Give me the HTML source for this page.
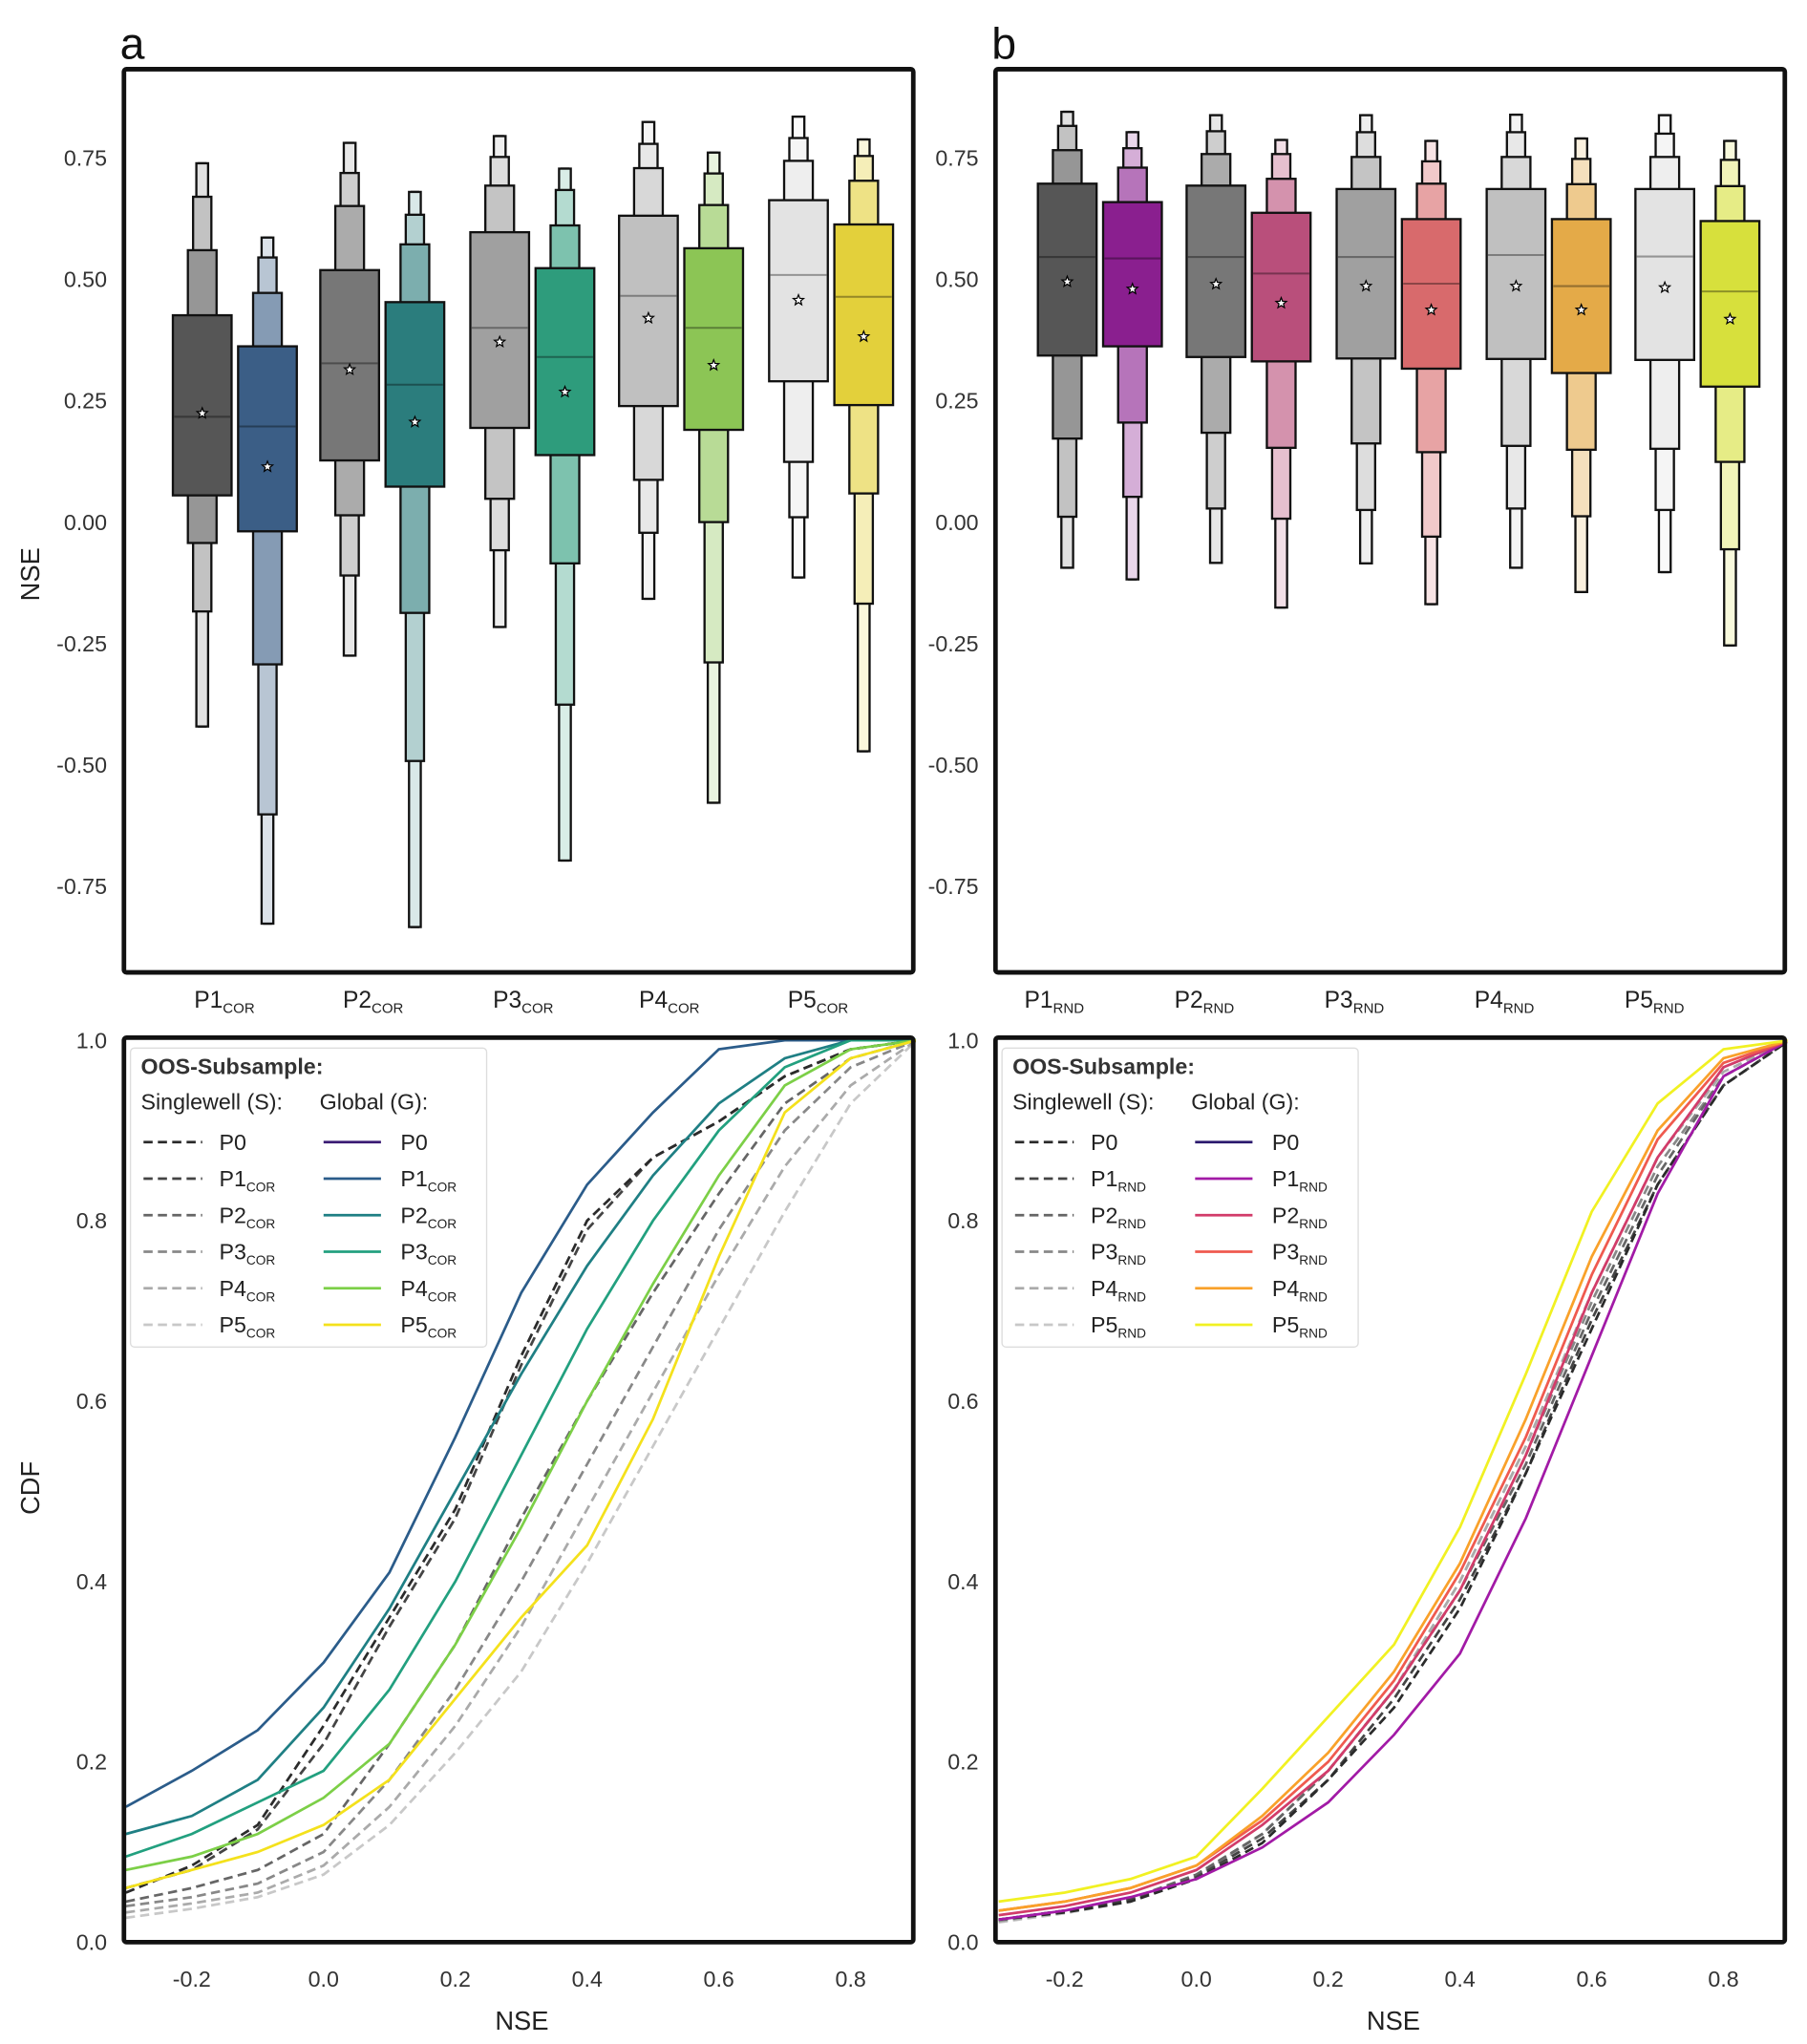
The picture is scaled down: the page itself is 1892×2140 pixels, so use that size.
<!DOCTYPE html>
<html><head><meta charset="utf-8"><style>
html,body{margin:0;padding:0;background:#fff;}
svg{display:block;font-family:"Liberation Sans",sans-serif;}
</style></head><body>
<svg id="fig" width="1892" height="2140" viewBox="0 0 1385 1566" preserveAspectRatio="none" xmlns="http://www.w3.org/2000/svg"></svg>
<script>
// ---------- Boxen data (letter values) ----------
const boxCategories = ["P1","P2","P3","P4","P5"];
const aS_upper = [[0.426,0.56,0.67,0.739,0.739],[0.519,0.651,0.719,0.781,0.781],[0.597,0.693,0.752,0.795,0.795],[0.631,0.729,0.779,0.824,0.824],[0.663,0.744,0.791,0.835,0.835]];
const aS_lower = [[0.055,-0.043,-0.184,-0.421,-0.421],[0.127,0.014,-0.11,-0.275,-0.275],[0.194,0.048,-0.058,-0.216,-0.216],[0.239,0.087,-0.022,-0.158,-0.158],[0.29,0.124,0.01,-0.114,-0.114]];
const aS_median = [0.217,0.327,0.4,0.466,0.509];
const aS_mean = [0.224,0.314,0.371,0.42,0.457];
const aG_upper = [[0.362,0.472,0.545,0.586,0.586],[0.453,0.572,0.633,0.68,0.68],[0.523,0.611,0.684,0.728,0.728],[0.564,0.653,0.718,0.761,0.761],[0.613,0.703,0.754,0.788,0.788]];
const aG_lower = [[-0.019,-0.293,-0.602,-0.827,-0.827],[0.073,-0.187,-0.492,-0.834,-0.834],[0.138,-0.085,-0.376,-0.697,-0.697],[0.19,0.0,-0.289,-0.578,-0.578],[0.241,0.059,-0.168,-0.472,-0.472]];
const aG_median = [0.197,0.283,0.34,0.4,0.464];
const aG_mean = [0.114,0.206,0.268,0.323,0.382];
const bS_upper = [[0.697,0.766,0.816,0.845,0.845],[0.693,0.758,0.805,0.838,0.838],[0.686,0.752,0.803,0.838,0.838],[0.686,0.752,0.803,0.839,0.839],[0.686,0.752,0.8,0.838,0.838]];
const bS_lower = [[0.343,0.172,0.011,-0.094,-0.094],[0.34,0.184,0.028,-0.084,-0.084],[0.337,0.162,0.025,-0.085,-0.085],[0.336,0.157,0.028,-0.094,-0.094],[0.334,0.151,0.025,-0.103,-0.103]];
const bS_median = [0.546,0.546,0.546,0.55,0.547];
const bS_mean = [0.495,0.49,0.486,0.486,0.483];
const bG_upper = [[0.659,0.73,0.77,0.803,0.803],[0.637,0.707,0.758,0.787,0.787],[0.624,0.697,0.743,0.785,0.785],[0.624,0.696,0.748,0.79,0.79],[0.62,0.692,0.746,0.785,0.785]];
const bG_lower = [[0.362,0.205,0.052,-0.118,-0.118],[0.331,0.153,0.007,-0.176,-0.176],[0.316,0.144,-0.03,-0.169,-0.169],[0.307,0.149,0.012,-0.144,-0.144],[0.279,0.124,-0.056,-0.254,-0.254]];
const bG_median = [0.543,0.512,0.491,0.486,0.475];
const bG_mean = [0.48,0.451,0.437,0.437,0.418];
const boxTicks = [0.75,0.5,0.25,0,-0.25,-0.5,-0.75];

// ---------- CDF data ----------
const cdfX = [-0.3,-0.2,-0.1,0,0.1,0.2,0.3,0.4,0.5,0.6,0.7,0.8,0.9];
const cS0 = [0.055,0.085,0.13,0.24,0.36,0.48,0.65,0.8,0.87,0.91,0.96,0.99,1.0];
const cS1 = [0.06,0.08,0.125,0.22,0.35,0.47,0.64,0.79,0.87,0.91,0.96,0.99,1.0];
const cS2 = [0.045,0.06,0.08,0.12,0.22,0.33,0.47,0.6,0.72,0.83,0.93,0.98,1.0];
const cS3 = [0.04,0.05,0.065,0.1,0.18,0.28,0.4,0.53,0.66,0.79,0.9,0.97,1.0];
const cS4 = [0.033,0.043,0.055,0.085,0.15,0.24,0.35,0.48,0.61,0.74,0.86,0.95,1.0];
const cS5 = [0.027,0.037,0.05,0.075,0.13,0.21,0.3,0.42,0.55,0.68,0.81,0.93,1.0];
const cG1 = [0.15,0.19,0.235,0.31,0.41,0.56,0.72,0.84,0.92,0.99,1.0,1.0,1.0];
const cG2 = [0.12,0.14,0.18,0.26,0.37,0.5,0.63,0.75,0.85,0.93,0.98,1.0,1.0];
const cG3 = [0.095,0.12,0.155,0.19,0.28,0.4,0.54,0.68,0.8,0.9,0.97,1.0,1.0];
const cG4 = [0.08,0.095,0.12,0.16,0.22,0.33,0.46,0.6,0.73,0.85,0.95,0.99,1.0];
const cG5 = [0.06,0.08,0.1,0.13,0.18,0.27,0.36,0.44,0.58,0.76,0.92,0.98,1.0];
const dS0 = [0.025,0.033,0.045,0.07,0.11,0.18,0.26,0.37,0.52,0.68,0.84,0.95,1.0];
const dS1 = [0.025,0.035,0.047,0.072,0.115,0.18,0.27,0.38,0.52,0.69,0.84,0.95,1.0];
const dS2 = [0.025,0.035,0.048,0.075,0.12,0.19,0.28,0.39,0.53,0.7,0.85,0.96,1.0];
const dS3 = [0.024,0.034,0.047,0.075,0.12,0.19,0.28,0.39,0.54,0.71,0.86,0.96,1.0];
const dS4 = [0.023,0.033,0.046,0.073,0.12,0.19,0.28,0.4,0.55,0.72,0.87,0.965,1.0];
const dS5 = [0.022,0.032,0.045,0.072,0.12,0.19,0.28,0.4,0.55,0.72,0.87,0.97,1.0];
const dG1 = [0.025,0.035,0.05,0.07,0.105,0.155,0.23,0.32,0.47,0.65,0.83,0.96,1.0];
const dG2 = [0.03,0.04,0.055,0.08,0.13,0.19,0.28,0.39,0.54,0.72,0.87,0.97,1.0];
const dG3 = [0.035,0.045,0.06,0.085,0.135,0.2,0.29,0.41,0.56,0.74,0.89,0.975,1.0];
const dG4 = [0.035,0.045,0.06,0.085,0.14,0.21,0.3,0.42,0.58,0.76,0.9,0.98,1.0];
const dG5 = [0.045,0.055,0.07,0.095,0.17,0.25,0.33,0.46,0.63,0.81,0.93,0.99,1.0];
const cdfYTicks = [0,0.2,0.4,0.6,0.8,1.0];
const cdfXTicks = [-0.2,0,0.2,0.4,0.6,0.8];

const aS_colors=['#565656','#777777','#a0a0a0','#c0c0c0','#e3e3e3'];
const aG_colors=['#3b5e86','#2b7d7d','#2e9c7c','#8cc555','#e3d03b'];
const bG_colors=['#8a1f8f','#b94f7b','#d86a6c','#e4aa48','#d7e03c'];

const NS="http://www.w3.org/2000/svg";
const svg=document.getElementById('fig');
function mk(tag,attrs,parent){const e=document.createElementNS(NS,tag);for(const k in attrs)e.setAttribute(k,attrs[k]);(parent||svg).appendChild(e);return e;}
function blend(hex,f){const n=parseInt(hex.slice(1),16);let r=n>>16,g=(n>>8)&255,b=n&255;r=Math.round(r+(255-r)*f);g=Math.round(g+(255-g)*f);b=Math.round(b+(255-b)*f);return `rgb(${r},${g},${b})`;}
function darker(hex,f){const n=parseInt(hex.slice(1),16);let r=n>>16,g=(n>>8)&255,b=n&255;return `rgb(${Math.round(r*f)},${Math.round(g*f)},${Math.round(b*f)})`;}
function txt(x,y,s,size,attrs,parent){const t=mk('text',Object.assign({x:x,y:y,'font-size':size,fill:'#333'},attrs||{}),parent);t.textContent=s;return t;}

const boxY=v=>400-372*v;
const widths=[45,22,14,9,5];
const tierFade=[0,0.38,0.64,0.82,0.82];
function star(g,cx,cy){let p='';for(let i=0;i<10;i++){const r=i%2?1.8:4.2;const a=-Math.PI/2+i*Math.PI/5;p+=(i?'L':'M')+(cx+r*Math.cos(a)).toFixed(2)+','+(cy+r*Math.sin(a)).toFixed(2);}const s=mk('path',{d:p+'Z',fill:'#fff',stroke:'#000','stroke-width':0.9},g);
  
  }
function boxPanel2(px,letter,sub,centers,labelX,series){
  const g=mk('g',{});
  
  
  const pl=txt(px-3,45,letter,34,{fill:'#111'},g);
  
  
  boxTicks.forEach(t=>{const l=txt(px-13,boxY(t)+6,t.toFixed(2),17,{'text-anchor':'end'},g);
    
    });
  series.forEach((s,j)=>{
    boxCategories.forEach((cat,i)=>{
      const cx=centers[i]+j*50;const color=s.colors[i];const bg=mk('g',{},g);
      
      
      for(let k=4;k>=0;k--){const hi=boxY(s.upper[i][k]),lo=boxY(s.lower[i][k]);const w=widths[k];
        mk('rect',{x:cx-w/2,y:hi,width:w,height:lo-hi,fill:blend(color,tierFade[k]),stroke:'#111','stroke-width':1.7},bg);}
      const w0=widths[0];
      mk('line',{x1:cx-w0/2+1,x2:cx+w0/2-1,y1:boxY(s.median[i]),y2:boxY(s.median[i]),stroke:darker(color,0.65),'stroke-width':1.5},bg);
      star(bg,cx,boxY(s.mean[i]));
    });
  });
  boxCategories.forEach((cat,i)=>{const t=mk('text',{x:labelX[i],y:772,'font-size':18,fill:'#222','text-anchor':'middle'},g);
    
    
    const a=document.createElementNS(NS,'tspan');a.textContent=cat;t.appendChild(a);const b=document.createElementNS(NS,'tspan');b.setAttribute('font-size',11);b.setAttribute('dy',4);b.textContent=sub;t.appendChild(b);});
  const f=mk('rect',{x:px,y:53,width:605,height:692,fill:'none',stroke:'#111','stroke-width':3.5,rx:2},g);
  
  
}
boxPanel2(95,'a','COR',[155,268,383,497,612],[172,286,401,513,627],[
 {key:'singlewell',colors:aS_colors,upper:aS_upper,lower:aS_lower,median:aS_median,mean:aS_mean},
 {key:'global',colors:aG_colors,upper:aG_upper,lower:aG_lower,median:aG_median,mean:aG_mean}]);
boxPanel2(763,'b','RND',[818,932,1047,1162,1276],[808,923,1038,1153,1268],[
 {key:'singlewell',colors:aS_colors,upper:bS_upper,lower:bS_lower,median:bS_median,mean:bS_mean},
 {key:'global',colors:bG_colors,upper:bG_upper,lower:bG_lower,median:bG_median,mean:bG_mean}]);
const yl=txt(0,0,'NSE',20,{'text-anchor':'middle',transform:'translate(30,440) rotate(-90)',fill:'#222'});



const cdfY=v=>1488-691*v;
function cdfPanel(px,x0,letter,sub,sArr,gArr,gColors){
  const g=mk('g',{});
  
  
  const X=v=>x0+505*v;
  const cid='clip'+letter;
  const cp=mk('clipPath',{id:cid},g);mk('rect',{x:px,y:795,width:607,height:693},cp);
  cdfYTicks.forEach(t=>{const l=txt(px-13,cdfY(t)+6,t.toFixed(1),17,{'text-anchor':'end'},g);
    
    });
  cdfXTicks.forEach(t=>{const l=txt(X(t),1522,t.toFixed(1),17,{'text-anchor':'middle'},g);
    
    });
  const sCols=['#2b2b2b','#444','#666','#888','#aaa','#c8c8c8'];
  const lg=mk('g',{'clip-path':`url(#${cid})`},g);
  const draw=(arr,color,dash,name)=>{const p=mk('polyline',{points:cdfX.map((x,i)=>X(x).toFixed(1)+','+cdfY(arr[i]).toFixed(1)).join(' '),fill:'none',stroke:color,'stroke-width':2,'stroke-dasharray':dash||'none'},lg);
    
    };
  for(let i=sArr.length-1;i>=0;i--)draw(sArr[i],sCols[i],'7,4','cdf-singlewell-p'+i);
  gArr.forEach((a,i)=>draw(a,gColors[i+1],null,'cdf-global-p'+(i+1)));
  const L=mk('g',{},g);
  
  
  mk('rect',{x:px+5,y:803,width:273,height:229,fill:'#fff',stroke:'#ddd','stroke-width':1,rx:3},L);
  txt(px+13,823,'OOS-Subsample:',17,{'font-weight':'bold'},L);
  txt(px+13,850,'Singlewell (S):',17,{fill:'#222'},L);
  txt(px+150,850,'Global (G):',17,{fill:'#222'},L);
  for(let i=0;i<6;i++){const y=875+28*i;
    const e=mk('g',{},L);
    
    
    mk('line',{x1:px+15,x2:px+60,y1:y,y2:y,stroke:sCols[i],'stroke-width':2,'stroke-dasharray':'7,4'},e);
    mk('line',{x1:px+153,x2:px+197,y1:y,y2:y,stroke:gColors[i],'stroke-width':2},e);
    [px+73,px+212].forEach(lx=>{const t=mk('text',{x:lx,y:y+6,'font-size':17,fill:'#222'},e);
      const a=document.createElementNS(NS,'tspan');a.textContent='P'+i;t.appendChild(a);
      if(i>0){const b=document.createElementNS(NS,'tspan');b.setAttribute('font-size',10);b.setAttribute('dy',4);b.textContent=sub;t.appendChild(b);}});
  }
  const xt=txt(px+305,1555,'NSE',20,{'text-anchor':'middle',fill:'#222'},g);
  
  
  const f=mk('rect',{x:px,y:795,width:605,height:693,fill:'none',stroke:'#111','stroke-width':3.5,rx:2},g);
  
  
}
cdfPanel(95,248,'a','COR',[cS0,cS1,cS2,cS3,cS4,cS5],[cG1,cG2,cG3,cG4,cG5],['#3b1c74','#2b5c8a','#1f7f84','#22a07f','#7ccf47','#f4e11c']);
cdfPanel(763,917,'b','RND',[dS0,dS1,dS2,dS3,dS4,dS5],[dG1,dG2,dG3,dG4,dG5],['#2c1a6e','#a21aa6','#d23c6a','#ef5a4f','#f9a12a','#f1f122']);
const cl=txt(0,0,'CDF',20,{'text-anchor':'middle',transform:'translate(30,1140) rotate(-90)',fill:'#222'});


</script>
</body></html>
